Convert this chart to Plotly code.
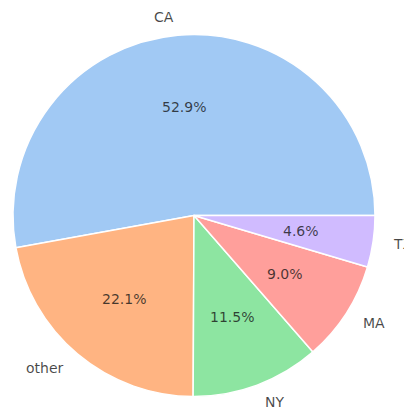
import math

import plotly.graph_objects as go

# slice data, in the order they are drawn (counterclockwise from 3 o'clock)
labels = ['CA', 'other', 'NY', 'MA', 'TX']
shares = [52.9, 22.1, 11.5, 9.0, 4.6]
colors = ['#a1c9f4', '#ffb482', '#8de5a1', '#ff9f9b', '#d0bbff']

# the page puts the figure 8px in from the top-left corner
off = 8
W, H = 412 - off, 414 - off
# pie placement in window pixels
cx, cy, r = 194 - off, 215.5 - off, 181

total = sum(shares)

fig = go.Figure(go.Pie(
    labels=labels, values=shares, sort=False,
    direction='counterclockwise',
    # first slice starts at 3 o'clock and runs counterclockwise
    rotation=90 - 360 * shares[0] / total,
    marker=dict(colors=colors, line=dict(color='white', width=1.5)),
    textinfo='none', hoverinfo='label+percent', showlegend=False,
    domain=dict(x=[(cx - r) / W, (cx + r) / W],
                y=[1 - (cy + r) / H, 1 - (cy - r) / H]),
))

# labels at 1.1 r, percentages at 0.6 r, like matplotlib
start = 0.0
annots = []
for lab, v in zip(labels, shares):
    mid = math.radians(start + 180 * v / total)
    start += 360 * v / total
    c, s = math.cos(mid), math.sin(mid)
    annots.append(dict(
        x=(cx + 1.1 * r * c) / W, y=1 - (cy - 1.1 * r * s) / H,
        text=lab, showarrow=False,
        xanchor='left' if c > 0 else 'right', yanchor='middle'))
    annots.append(dict(
        x=(cx + 0.6 * r * c) / W, y=1 - (cy - 0.6 * r * s) / H,
        text='%.1f%%' % v, showarrow=False,
        xanchor='center', yanchor='middle'))

fig.update_layout(
    width=W, height=H,
    margin=dict(l=0, r=0, t=0, b=0),
    paper_bgcolor='white', plot_bgcolor='white',
    font=dict(family='DejaVu Sans', size=14, color='rgba(20,20,20,0.78)'),
    annotations=annots,
)

fig.write_html("out.html")
